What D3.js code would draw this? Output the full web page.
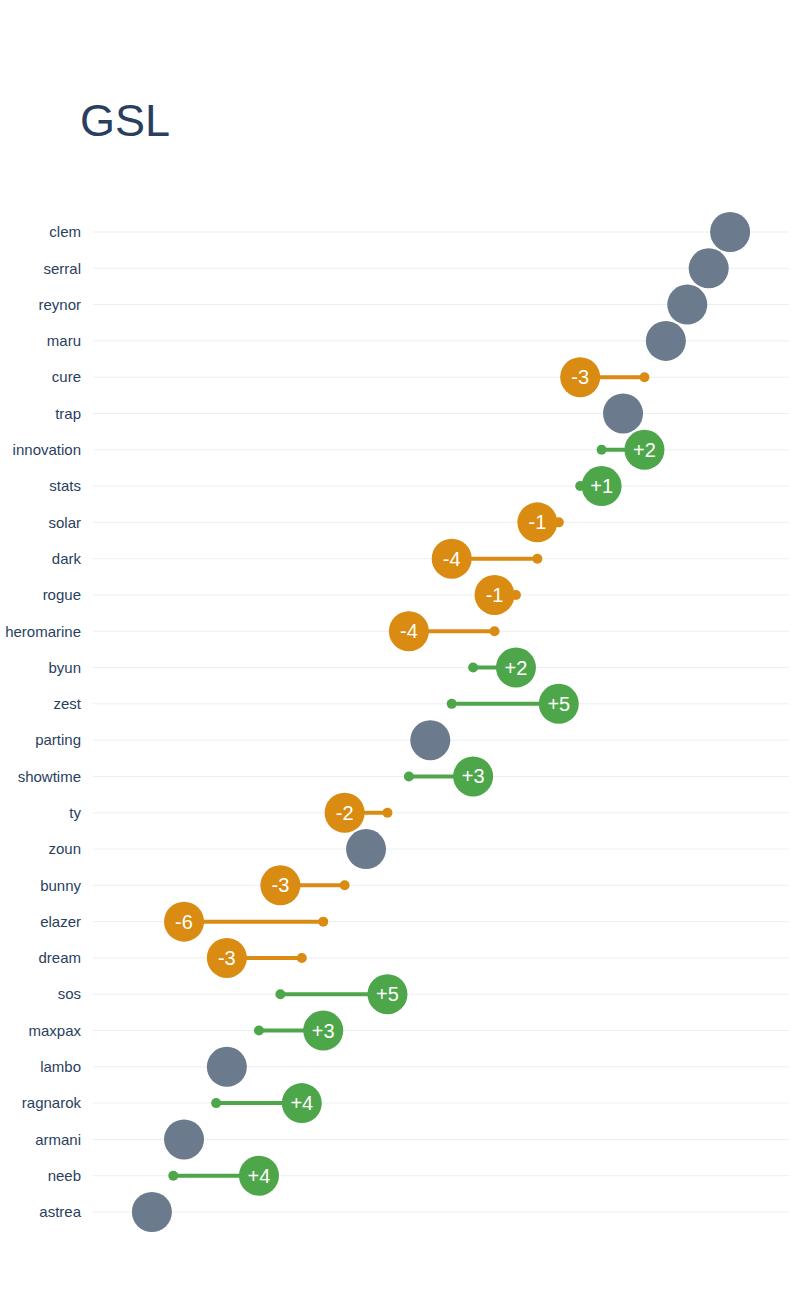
<!DOCTYPE html>
<html>
<head>
<meta charset="utf-8">
<script src="https://cdn.jsdelivr.net/npm/d3@7"></script>
<style>
  body { margin: 0; background: #fff; }
  text { font-family: "Liberation Sans", Arial, sans-serif; }
</style>
</head>
<body>
<svg id="chart" width="800" height="1300"></svg>
<script>
// players top to bottom
var players = ["clem","serral","reynor","maru","cure","trap","innovation","stats","solar","dark",
  "rogue","heromarine","byun","zest","parting","showtime","ty","zoun","bunny","elazer",
  "dream","sos","maxpax","lambo","ragnarok","armani","neeb","astrea"];
// score now and score before (same value = no change)
var current = [54,52,50,48,40,44,46,42,36,28,32,24,34,38,26,30,18,20,12,3,7,22,16,7,14,3,10,0];
var previous = [54,52,50,48,46,44,42,40,38,36,34,32,30,28,26,24,22,20,18,16,14,12,10,7,6,3,2,0];
// rank change labels
var changes = [0,0,0,0,-3,0,2,1,-1,-4,-1,-4,2,5,0,3,-2,0,-3,-6,-3,5,3,0,4,0,4,0];

var svg = d3.select("#chart");
var x = d3.scaleLinear().domain([-5.5, 59.5]).range([93, 789]);
var y = d3.scalePoint().domain(players).range([232, 1212]);

svg.append("text").attr("x", 80).attr("y", 136)
  .attr("font-size", 45).attr("fill", "#2a3f5f").text("GSL");

// grid
svg.selectAll(".grid").data(players).enter().append("line")
  .attr("x1", 93).attr("x2", 789)
  .attr("y1", d => y(d)).attr("y2", d => y(d))
  .attr("stroke", "#ebeff4").attr("stroke-width", 1);

svg.selectAll(".lab").data(players).enter().append("text")
  .attr("x", 81).attr("y", d => y(d)).attr("dy", "0.35em")
  .attr("text-anchor", "end").attr("font-size", 15).attr("fill", "#2a3f5f")
  .text(d => d);

var rows = players.map(function(p, i) {
  return { name: p, cur: current[i], prev: previous[i], change: changes[i] };
});

function col(d) { return d.change > 0 ? "#4ea64a" : d.change < 0 ? "#d98b12" : "#6b7a8c"; }

var moved = rows.filter(d => d.change !== 0);

svg.selectAll(".bar").data(moved).enter().append("line")
  .attr("x1", d => x(d.prev)).attr("x2", d => x(d.cur))
  .attr("y1", d => y(d.name)).attr("y2", d => y(d.name))
  .attr("stroke", col).attr("stroke-width", 4);

svg.selectAll(".old").data(moved).enter().append("circle")
  .attr("cx", d => x(d.prev)).attr("cy", d => y(d.name)).attr("r", 5)
  .attr("fill", col);

svg.selectAll(".now").data(rows).enter().append("circle")
  .attr("cx", d => x(d.cur)).attr("cy", d => y(d.name)).attr("r", 20)
  .attr("fill", col);

svg.selectAll(".chg").data(moved).enter().append("text")
  .attr("x", d => x(d.cur)).attr("y", d => y(d.name)).attr("dy", "0.35em")
  .attr("text-anchor", "middle").attr("font-size", 20).attr("fill", "#fff")
  .text(d => (d.change > 0 ? "+" : "") + d.change);
</script>
</body>
</html>
